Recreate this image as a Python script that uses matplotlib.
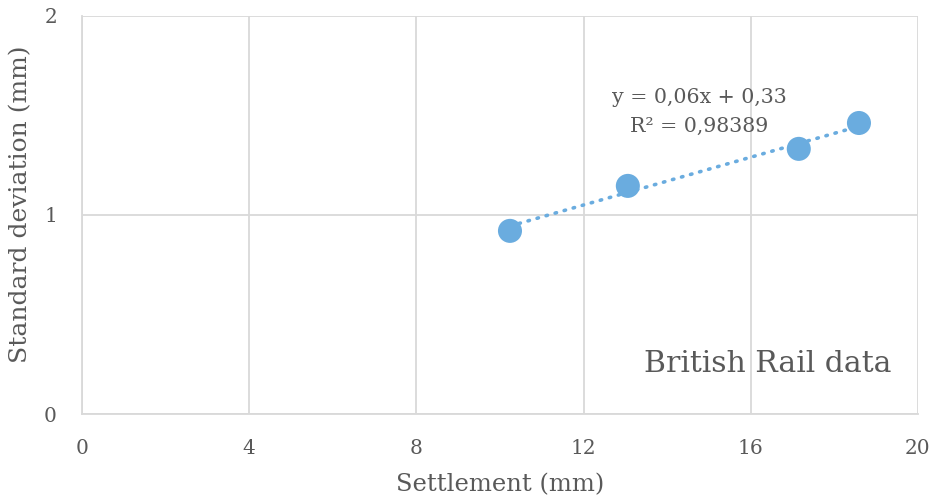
import numpy as np
import matplotlib.pyplot as plt

# Settlement vs standard deviation, British Rail data
settlement = [10.24, 13.06, 17.15, 18.59]
std_dev = [0.92, 1.146, 1.332, 1.462]

slope = 0.06
intercept = 0.33
r_squared = "0,98389"

x_ticks = [0, 4, 8, 12, 16, 20]
y_ticks = [0, 1, 2]

BLUE = "#6aacdf"
GRID = "#d9d9d9"
TEXT = "#595959"

plt.rcParams["font.family"] = ["DejaVu Serif"]

fig = plt.figure(figsize=(9.35, 4.97), dpi=100)
ax = fig.add_axes([0.0877, 0.167, 0.894, 0.801])

# linear trendline over the range of the data
xs = np.array([min(settlement), max(settlement)])
ax.plot(xs, slope * xs + intercept, color=BLUE, lw=2.6,
        linestyle=(0, (0.4, 2.2)), dash_capstyle="round", zorder=2)
ax.scatter(settlement, std_dev, s=300, color=BLUE, edgecolors="none", zorder=3)

ax.set_xlim(0, 20)
ax.set_ylim(0, 2)
ax.set_xticks(x_ticks)
ax.set_yticks(y_ticks)
ax.grid(True, color=GRID, lw=1.3)
ax.set_axisbelow(True)
for side in ["top", "right"]:
    ax.spines[side].set_visible(False)
for side in ["left", "bottom"]:
    ax.spines[side].set_color(GRID)
    ax.spines[side].set_linewidth(1.3)
ax.tick_params(length=0, labelsize=14.5, labelcolor=TEXT)
ax.tick_params(axis="x", pad=18)
ax.tick_params(axis="y", pad=18)

ax.set_xlabel("Settlement (mm)", fontsize=17.5, color=TEXT, labelpad=11)
ax.set_ylabel("Standard deviation (mm)", fontsize=18, color=TEXT)
ax.yaxis.set_label_coords(-0.06, 0.528)

ax.text(14.76, 1.588, "y = 0,06x + 0,33", ha="center", va="center",
        fontsize=14.8, color=TEXT)
ax.text(14.76, 1.447, f"R² = {r_squared}", ha="center", va="center",
        fontsize=14.8, color=TEXT)
ax.text(19.38, 0.25, "British Rail data", ha="right", va="center",
        fontsize=21.5, color=TEXT)

fig.savefig("out.png", dpi=100)
